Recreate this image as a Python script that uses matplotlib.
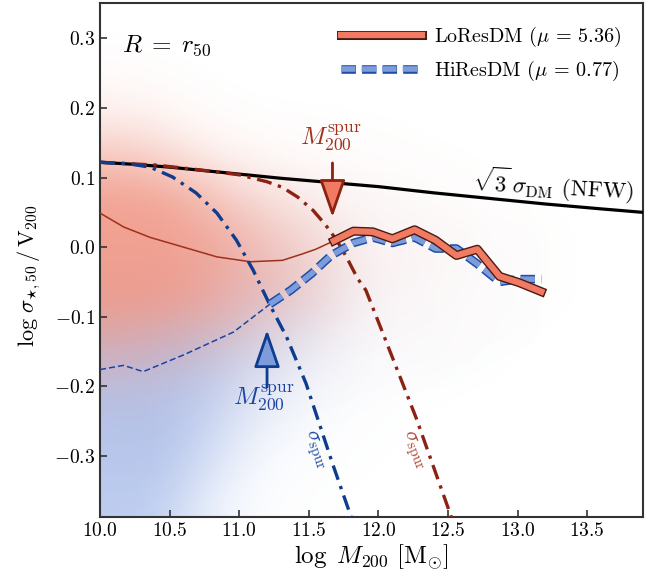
# stellar velocity dispersion vs halo mass, LoResDM vs HiResDM
import numpy as np
import matplotlib
matplotlib.use("Agg")
from matplotlib import pyplot as plt
from matplotlib import patheffects as pe
from matplotlib.colors import LinearSegmentedColormap

plt.rcParams["font.family"] = "serif"
plt.rcParams["font.serif"] = ["cmr10"]
plt.rcParams["mathtext.fontset"] = "cm"
plt.rcParams["axes.formatter.use_mathtext"] = True

# sqrt(3) sigma_DM for an NFW halo
nfw_x = [10.0, 10.25, 10.5, 10.75, 11.0, 11.3, 11.65, 12.0, 12.4, 12.8, 13.2, 13.6, 13.9]
nfw_y = [0.122, 0.119, 0.115, 0.110, 0.105, 0.099, 0.093, 0.087, 0.078, 0.070, 0.062, 0.055, 0.050]

# spurious heating limits
spur_lo_x = [10.0, 10.4, 10.72, 11.0, 11.2, 11.31, 11.42, 11.53, 11.62, 11.7, 11.77, 11.85, 11.91, 12.06, 12.27, 12.545]
spur_lo_y = [0.122, 0.118, 0.111, 0.104, 0.094, 0.086, 0.072, 0.053, 0.032, 0.010, -0.014, -0.045, -0.062, -0.138, -0.245, -0.40]
spur_hi_x = [10.0, 10.2, 10.36, 10.52, 10.69, 10.84, 10.98, 11.1, 11.22, 11.34, 11.48, 11.67, 11.825]
spur_hi_y = [0.122, 0.120, 0.115, 0.101, 0.078, 0.049, 0.010, -0.033, -0.083, -0.129, -0.196, -0.311, -0.40]

# medians below / above M200_spur
lo_thin_x = [10.0, 10.17, 10.36, 10.6, 10.84, 11.08, 11.31, 11.45, 11.55, 11.68]
lo_thin_y = [0.049, 0.029, 0.014, 0.0, -0.014, -0.021, -0.019, -0.010, -0.003, 0.009]
hi_thin_x = [10.0, 10.17, 10.31, 10.6, 10.96, 11.22]
hi_thin_y = [-0.176, -0.170, -0.179, -0.155, -0.122, -0.082]
lo_x = [11.68, 11.82, 11.96, 12.10, 12.26, 12.41, 12.56, 12.71, 12.87, 13.01, 13.17]
lo_y = [0.009, 0.023, 0.022, 0.012, 0.025, 0.010, -0.012, -0.003, -0.042, -0.051, -0.064]
hi_x = [11.22, 11.37, 11.52, 11.66, 11.82, 11.96, 12.10, 12.26, 12.41, 12.56, 12.71, 12.87, 13.01, 13.17]
hi_y = [-0.082, -0.062, -0.038, -0.012, 0.006, 0.014, 0.006, 0.014, -0.002, -0.002, -0.024, -0.050, -0.046, -0.046]

# rough point density of the two galaxy clouds (rows: y from -0.375 to 0.325, cols: x from 10.125 to 13.875)
lo_density = np.array([
    [0.02, 0.02, 0.01, 0.00, 0.00, 0.00, 0.00, 0.00, 0.00, 0.00, 0.00, 0.00, 0.00, 0.00, 0.00, 0.00],
    [0.05, 0.05, 0.03, 0.01, 0.01, 0.00, 0.00, 0.00, 0.00, 0.00, 0.00, 0.00, 0.00, 0.00, 0.00, 0.00],
    [0.07, 0.07, 0.04, 0.02, 0.01, 0.01, 0.00, 0.00, 0.00, 0.00, 0.00, 0.00, 0.00, 0.00, 0.00, 0.00],
    [0.12, 0.12, 0.07, 0.04, 0.03, 0.02, 0.02, 0.01, 0.00, 0.00, 0.00, 0.00, 0.00, 0.00, 0.00, 0.00],
    [0.35, 0.30, 0.22, 0.14, 0.09, 0.05, 0.04, 0.03, 0.02, 0.02, 0.01, 0.00, 0.00, 0.00, 0.00, 0.00],
    [0.75, 0.65, 0.55, 0.42, 0.28, 0.18, 0.12, 0.07, 0.05, 0.04, 0.03, 0.02, 0.01, 0.00, 0.00, 0.00],
    [1.00, 1.00, 0.92, 0.76, 0.58, 0.42, 0.27, 0.12, 0.08, 0.06, 0.04, 0.03, 0.02, 0.01, 0.00, 0.00],
    [1.00, 1.00, 0.96, 0.85, 0.68, 0.50, 0.32, 0.16, 0.10, 0.08, 0.05, 0.03, 0.02, 0.01, 0.00, 0.00],
    [1.00, 1.00, 0.94, 0.78, 0.58, 0.42, 0.27, 0.13, 0.09, 0.07, 0.05, 0.03, 0.02, 0.01, 0.00, 0.00],
    [0.95, 0.92, 0.78, 0.55, 0.36, 0.22, 0.12, 0.07, 0.05, 0.04, 0.03, 0.02, 0.01, 0.00, 0.00, 0.00],
    [0.62, 0.52, 0.36, 0.18, 0.10, 0.07, 0.05, 0.04, 0.03, 0.02, 0.01, 0.00, 0.00, 0.00, 0.00, 0.00],
    [0.25, 0.20, 0.10, 0.05, 0.03, 0.02, 0.02, 0.01, 0.01, 0.00, 0.00, 0.00, 0.00, 0.00, 0.00, 0.00],
    [0.08, 0.06, 0.03, 0.01, 0.00, 0.00, 0.00, 0.00, 0.00, 0.00, 0.00, 0.00, 0.00, 0.00, 0.00, 0.00],
    [0.02, 0.01, 0.00, 0.00, 0.00, 0.00, 0.00, 0.00, 0.00, 0.00, 0.00, 0.00, 0.00, 0.00, 0.00, 0.00],
    [0.00, 0.00, 0.00, 0.00, 0.00, 0.00, 0.00, 0.00, 0.00, 0.00, 0.00, 0.00, 0.00, 0.00, 0.00, 0.00],
])
hi_density = np.array([
    [0.85, 0.80, 0.50, 0.20, 0.06, 0.02, 0.01, 0.00, 0.00, 0.00, 0.00, 0.00, 0.00, 0.00, 0.00, 0.00],
    [0.92, 0.92, 0.68, 0.34, 0.11, 0.04, 0.02, 0.01, 0.00, 0.00, 0.00, 0.00, 0.00, 0.00, 0.00, 0.00],
    [0.96, 1.00, 0.82, 0.52, 0.22, 0.09, 0.04, 0.02, 0.01, 0.00, 0.00, 0.00, 0.00, 0.00, 0.00, 0.00],
    [1.00, 1.00, 0.92, 0.66, 0.38, 0.18, 0.08, 0.03, 0.02, 0.01, 0.00, 0.00, 0.00, 0.00, 0.00, 0.00],
    [1.00, 1.00, 0.96, 0.78, 0.52, 0.32, 0.16, 0.07, 0.04, 0.03, 0.02, 0.01, 0.00, 0.00, 0.00, 0.00],
    [0.95, 1.00, 0.94, 0.80, 0.60, 0.42, 0.22, 0.10, 0.05, 0.04, 0.03, 0.02, 0.01, 0.00, 0.00, 0.00],
    [0.72, 0.76, 0.72, 0.62, 0.52, 0.42, 0.24, 0.10, 0.06, 0.04, 0.03, 0.02, 0.01, 0.00, 0.00, 0.00],
    [0.45, 0.45, 0.42, 0.38, 0.32, 0.26, 0.15, 0.08, 0.05, 0.04, 0.03, 0.02, 0.01, 0.00, 0.00, 0.00],
    [0.22, 0.22, 0.20, 0.20, 0.15, 0.12, 0.08, 0.05, 0.04, 0.03, 0.02, 0.01, 0.01, 0.00, 0.00, 0.00],
    [0.10, 0.10, 0.08, 0.06, 0.05, 0.04, 0.03, 0.02, 0.02, 0.01, 0.00, 0.00, 0.00, 0.00, 0.00, 0.00],
    [0.03, 0.03, 0.02, 0.01, 0.01, 0.00, 0.00, 0.00, 0.00, 0.00, 0.00, 0.00, 0.00, 0.00, 0.00, 0.00],
    [0.01, 0.01, 0.00, 0.00, 0.00, 0.00, 0.00, 0.00, 0.00, 0.00, 0.00, 0.00, 0.00, 0.00, 0.00, 0.00],
    [0.00, 0.00, 0.00, 0.00, 0.00, 0.00, 0.00, 0.00, 0.00, 0.00, 0.00, 0.00, 0.00, 0.00, 0.00, 0.00],
    [0.00, 0.00, 0.00, 0.00, 0.00, 0.00, 0.00, 0.00, 0.00, 0.00, 0.00, 0.00, 0.00, 0.00, 0.00, 0.00],
    [0.00, 0.00, 0.00, 0.00, 0.00, 0.00, 0.00, 0.00, 0.00, 0.00, 0.00, 0.00, 0.00, 0.00, 0.00, 0.00],
])
density_extent = (10.0, 14.0, -0.4, 0.35)

labels = [r"LoResDM ($\mu\,=\,5.36$)", r"HiResDM ($\mu\,=\,0.77$)"]

red_dark = "#8c2212"
red_face = "#f07a62"
blue_dark = "#0e3c8e"
blue_face = "#7d9cdc"

fig = plt.figure(figsize=(6.56, 5.76), dpi=100)
ax = fig.add_axes([0.1524, 0.1024, 0.8277, 0.8924])

blue_cmap = LinearSegmentedColormap.from_list("b", [(0.64, 0.74, 0.93, 0.0), (0.64, 0.74, 0.93, 0.85)], gamma=0.8)
red_cmap = LinearSegmentedColormap.from_list("r", [(0.95, 0.58, 0.50, 0.0), (0.95, 0.58, 0.50, 0.85)], gamma=0.8)
ax.imshow(hi_density, cmap=blue_cmap, vmin=0, vmax=1, extent=density_extent, origin="lower",
          aspect="auto", interpolation="bicubic", zorder=0)
ax.imshow(lo_density, cmap=red_cmap, vmin=0, vmax=1, extent=density_extent, origin="lower",
          aspect="auto", interpolation="bicubic", zorder=1)

ax.plot(nfw_x, nfw_y, color="k", lw=2.3, zorder=3)
ax.plot(spur_lo_x, spur_lo_y, color=red_dark, lw=2.4, ls=(0, (4.5, 2, 1, 2)), zorder=4)
ax.plot(spur_hi_x, spur_hi_y, color=blue_dark, lw=2.4, ls=(0, (4.5, 2, 1, 2)), zorder=4)

ax.plot(lo_thin_x, lo_thin_y, color="#a0301c", lw=1.1, zorder=3)
ax.plot(hi_thin_x, hi_thin_y, color="#1a44a0", lw=1.1, ls=(0, (4, 2)), zorder=3)

lo_line, = ax.plot(lo_x, lo_y, color=red_face, lw=4.5, label=labels[0], zorder=6,
                   path_effects=[pe.Stroke(linewidth=6.5, foreground="#4a1a10"), pe.Normal()])
hi_line, = ax.plot(hi_x, hi_y, color=blue_face, lw=4, ls=(0, (2.6, 1.1)), label=labels[1], zorder=5,
                   path_effects=[pe.Stroke(linewidth=6.2, foreground="#1f4ea6"), pe.Normal()])

# arrows marking M200_spur
ax.annotate("", xy=(11.67, 0.043), xytext=(11.67, 0.121),
            arrowprops=dict(arrowstyle="-|>,head_length=1.3,head_width=0.45", lw=2,
                            ec=red_dark, fc=red_face, mutation_scale=18, shrinkA=0, shrinkB=0), zorder=7)
ax.annotate("", xy=(11.2, -0.119), xytext=(11.2, -0.201),
            arrowprops=dict(arrowstyle="-|>,head_length=1.3,head_width=0.45", lw=2,
                            ec=blue_dark, fc=blue_face, mutation_scale=18, shrinkA=0, shrinkB=0), zorder=7)
ax.text(11.656, 0.157, r"$M_{200}^{\rm spur}$", color="#a0301c", fontsize=18, ha="center", va="center")
ax.text(11.18, -0.217, r"$M_{200}^{\rm spur}$", color="#1a44a0", fontsize=18, ha="center", va="center")
ax.text(11.54, -0.292, r"$\sigma_{\rm spur}$", color="#1a44a0", fontsize=15, ha="center", va="center",
        rotation=-70)
ax.text(12.25, -0.292, r"$\sigma_{\rm spur}$", color="#b04030", fontsize=15, ha="center", va="center",
        rotation=-68)
ax.text(13.26, 0.088, r"$\sqrt{3}\,\sigma_{\rm DM}$ (NFW)", fontsize=16.5, ha="center", va="center", rotation=-3)
ax.text(10.48, 0.29, r"$R\;=\;r_{50}$", fontsize=18, ha="center", va="center")

ax.set_xlim(10.0, 13.9)
ax.set_ylim(-0.388, 0.351)
ax.set_xticks([10.0, 10.5, 11.0, 11.5, 12.0, 12.5, 13.0, 13.5])
ax.set_yticks([-0.3, -0.2, -0.1, 0.0, 0.1, 0.2, 0.3])
ax.tick_params(direction="in", length=5, width=1.2, labelsize=14, color="#333333", top=False, right=False)
for s in ax.spines.values():
    s.set_color("#333333")
    s.set_linewidth(1.5)
ax.set_xlabel(r"$\log\ M_{200}\ [\mathrm{M}_{\odot}]$", fontsize=18, labelpad=2)
ax.set_ylabel(r"$\log\,\sigma_{\star,50}\,/\,\mathrm{V}_{200}$", fontsize=16, labelpad=6)
ax.yaxis.set_label_coords(-0.105, 0.47)

ax.legend(handles=[lo_line, hi_line], loc="upper right", fontsize=14.5, handlelength=4.0,
          handletextpad=0.6, borderaxespad=0.7, frameon=False)

fig.savefig("out.png", dpi=100)
